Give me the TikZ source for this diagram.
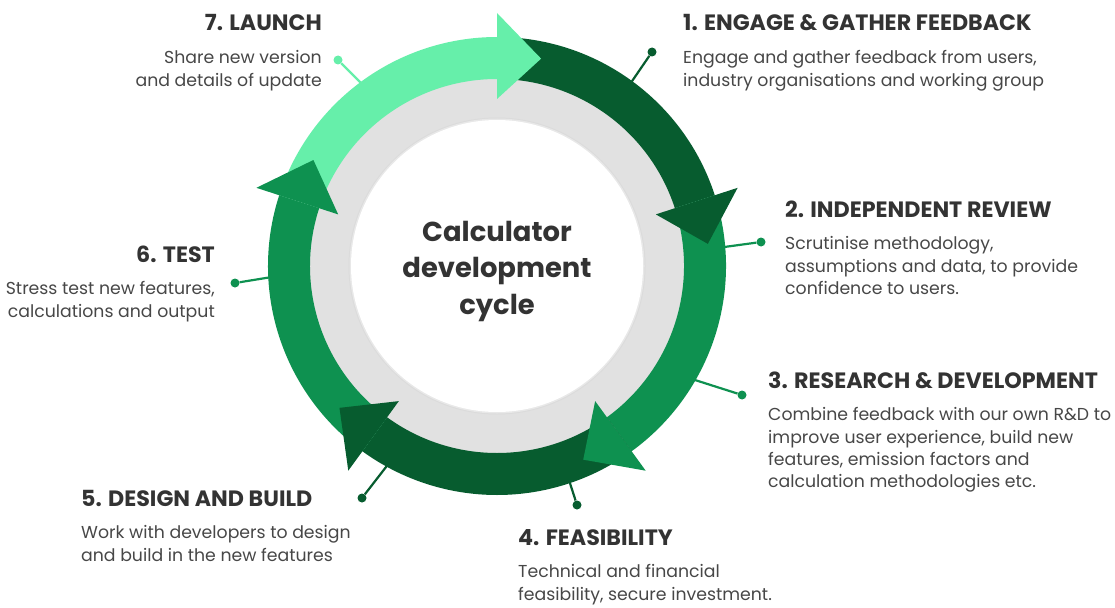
\documentclass[tikz,border=0pt]{standalone}
\usepackage{fontspec}
\setmainfont{Poppins}
\usetikzlibrary{positioning}
\definecolor{lightgreen}{HTML}{66EFAA}
\definecolor{darkgreen}{HTML}{075C2F}
\definecolor{midgreen}{HTML}{0E9150}
\definecolor{ringgray}{HTML}{E1E1E1}
\definecolor{headgray}{HTML}{333333}
\definecolor{bodygray}{HTML}{474747}
\tikzset{
  heading/.style={inner sep=0pt, text=headgray, font=\fontsize{22.2}{26}\selectfont\bfseries},
  blurb/.style={inner sep=0pt, text=bodygray, font=\fontsize{17.3}{22.3}\selectfont},
  title/.style={inner sep=0pt, text=headgray, align=center, font=\fontsize{27.4}{36.5}\selectfont\bfseries},
  pin/.style={circle, inner sep=0pt, minimum size=9pt, fill=#1},
  stem/.style={line width=2.2pt, draw=#1},
}
\begin{document}
\begin{tikzpicture}[x=1pt,y=1pt]
  \useasboundingbox (0,0) rectangle (1115,-607);
  \begin{scope}[shift={(497,-266)}]
    % pins and stems, under the ring
    \node[pin=darkgreen] (d1) at (155,214) {};
    \node[pin=midgreen] (d2) at (264,24) {};
    \node[pin=midgreen] (d3) at (245,-129) {};
    \node[pin=darkgreen] (d4) at (80,-239) {};
    \node[pin=darkgreen] (d5) at (-135,-232) {};
    \node[pin=midgreen] (d6) at (-262,-17) {};
    \node[pin=lightgreen] (d7) at (-159,206) {};
    \coordinate (r1) at (53.8:222);
    \coordinate (r2) at (4.7:222);
    \coordinate (r3) at (-30.3:222);
    \coordinate (r4) at (-71.4:222);
    \coordinate (r5) at (-118.6:222);
    \coordinate (r6) at (182.7:222);
    \coordinate (r7) at (126.4:222);
    \draw[stem=darkgreen] (d1) -- (r1);
    \draw[stem=midgreen] (d2) -- (r2);
    \draw[stem=midgreen] (d3) -- (r3);
    \draw[stem=darkgreen] (d4) -- (r4);
    \draw[stem=darkgreen] (d5) -- (r5);
    \draw[stem=midgreen] (d6) -- (r6);
    \draw[stem=lightgreen] (d7) -- (r7);
    % ring, with a soft edge round the inner disc
    \fill[ringgray] (0,0) circle (190);
    \fill[black!14] (0,0) circle (148.5);
    \fill[black!9] (0,0) circle (147.5);
    \fill[white] (0,0) circle (146);
    % arrows: bodies first, heads on top
    \foreach \a/\c in {78/lightgreen, 6/darkgreen, -66/midgreen, -138/darkgreen, -210/midgreen}
      \fill[\c] (\a+84:229) arc[start angle=\a+84, end angle=\a+12, radius=229]
        -- (\a+12:187) arc[start angle=\a+12, end angle=\a+84, radius=187] -- cycle;
    \foreach \a/\c in {78/lightgreen, 6/darkgreen, -66/midgreen, -138/darkgreen, -210/midgreen}
      \fill[\c] (\a+12:167) -- (\a+12:253) -- (\a:212) -- cycle;
    \node[title] (title) at (0,-5) {Calculator\\development\\cycle};
  \end{scope}
  % stage texts
  \node[heading, anchor=base west] (h1) at (683,-31) {1. ENGAGE \& GATHER FEEDBACK};
  \node[blurb, align=left, below right=19.5pt and 0pt of h1.base west] (b1) {Engage and gather feedback from users,\\industry organisations and working group};
  \node[heading, anchor=base west] (h2) at (785,-217) {2. INDEPENDENT REVIEW};
  \node[blurb, align=left, below right=19.5pt and 0pt of h2.base west] (b2) {Scrutinise methodology,\\assumptions and data, to provide\\confidence to users.};
  \node[heading, anchor=base west] (h3) at (768,-388) {3. RESEARCH \& DEVELOPMENT};
  \node[blurb, align=left, below right=19.5pt and 0pt of h3.base west] (b3) {Combine feedback with our own R\&D to\\improve user experience, build new\\features, emission factors and\\calculation methodologies etc.};
  \node[heading, anchor=base west] (h4) at (518,-545) {4. FEASIBILITY};
  \node[blurb, align=left, below right=19.5pt and 0pt of h4.base west] (b4) {Technical and financial\\feasibility, secure investment.};
  \node[heading, anchor=base west] (h5) at (81,-506) {5. DESIGN AND BUILD};
  \node[blurb, align=left, below right=19.5pt and 0pt of h5.base west] (b5) {Work with developers to design\\and build in the new features};
  \node[heading, anchor=base east] (h6) at (215,-262) {6. TEST};
  \node[blurb, align=right, below left=19.5pt and 0pt of h6.base east] (b6) {Stress test new features,\\calculations and output};
  \node[heading, anchor=base east] (h7) at (322,-31) {7. LAUNCH};
  \node[blurb, align=right, below left=19.5pt and 0pt of h7.base east] (b7) {Share new version\\and details of update};
\end{tikzpicture}
\end{document}
